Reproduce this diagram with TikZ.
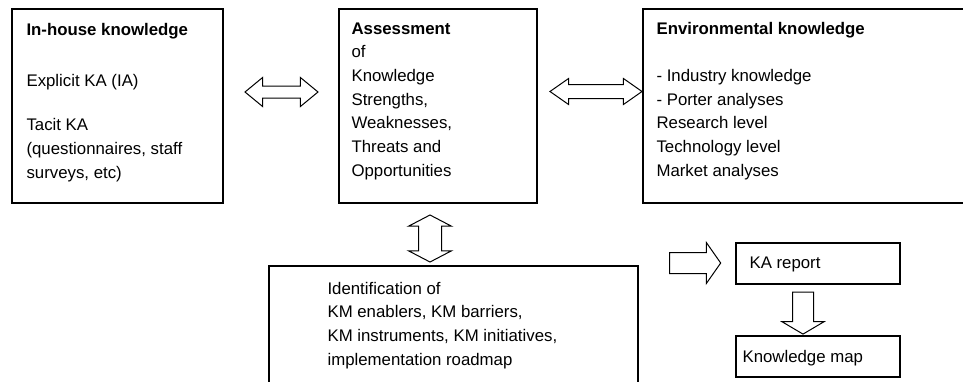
\documentclass[tikz,border=0pt]{standalone}
\usepackage{fontspec}
\setmainfont{Liberation Sans}
\usetikzlibrary{shapes.arrows,calc,positioning}

\tikzset{
  box/.style ={draw, line width=1.3pt, inner sep=0pt},
  txt/.style ={align=left, inner sep=0pt, anchor=base west,
               font=\fontsize{16.8}{23.7}\selectfont},
  dbl/.style ={draw, line width=1pt, double arrow, minimum width=0pt},
  sgl/.style ={draw, line width=1pt, single arrow, minimum width=0pt},
}

\begin{document}
\begin{tikzpicture}[x=1pt, y=-1pt]
  \clip (0,0) rectangle (963,381);
  \fill[white] (0,0) rectangle (963,381);

  % boxes
  \node[box, minimum width=211, minimum height=194] (inhouse) at (117.5,106) {};
  \node[box, minimum width=198, minimum height=194] (swot)    at (438,106) {};
  \node[box, minimum width=330, minimum height=194] (env)     at (808,106) {};
  \node[box, minimum width=369, minimum height=118] (ident)   at (453.5,325) {};
  \node[box, minimum width=164, minimum height=41]  (report)  at (818,263.5) {};
  \node[box, minimum width=164, minimum height=41]  (kmap)    at (818,356.5) {};

  % texts (base = last line)
  \node[txt] (inhousetxt) at ($(inhouse.north west)+(15,170)$)
    {\textbf{In-house knowledge}\\[27pt]Explicit KA (IA)\\[21pt]Tacit KA\\(questionnaires, staff\\surveys, etc)};
  \node[txt] (swottxt) at ($(swot.north west)+(13,168)$)
    {\textbf{Assessment}\\of\\Knowledge\\Strengths,\\Weaknesses,\\Threats and\\Opportunities};
  \node[txt] (envtxt) at ($(env.north west)+(14,168)$)
    {\textbf{Environmental knowledge}\\[23.7pt]- Industry knowledge\\- Porter analyses\\Research level\\Technology level\\Market analyses};
  \node[txt] (identtxt) at ($(ident.north west)+(59,100)$)
    {Identification of\\KM enablers, KM barriers,\\KM instruments, KM initiatives,\\implementation roadmap};
  \node[txt] (reporttxt) at ($(report.north west)+(14,26)$) {KA report};
  \node[txt] (kmaptxt)   at ($(kmap.north west)+(7,27)$) {Knowledge map};

  % block arrows
  \node[dbl, inner xsep=0pt, inner ysep=5.5, minimum height=73,
        double arrow head extend=8.5, double arrow tip angle=79] (a1) at (281.5,92) {};
  \node[dbl, inner xsep=0pt, inner ysep=6.5, minimum height=92,
        double arrow head extend=6, double arrow tip angle=70] (a2) at (596,91.5) {};
  \node[dbl, inner xsep=11, inner ysep=0pt, minimum height=47,
        double arrow head extend=10, double arrow tip angle=125,
        shape border rotate=90] (a3) at (430,238.5) {};
  \node[sgl, inner xsep=0pt, inner ysep=10, minimum height=51,
        single arrow head extend=10, single arrow tip angle=110] (a4) at (691.5,263) {};
  \node[sgl, inner xsep=10, inner ysep=0pt, minimum height=42,
        single arrow head extend=10.5, single arrow tip angle=119,
        shape border rotate=270] (a5) at (803,310) {};
\end{tikzpicture}
\end{document}
